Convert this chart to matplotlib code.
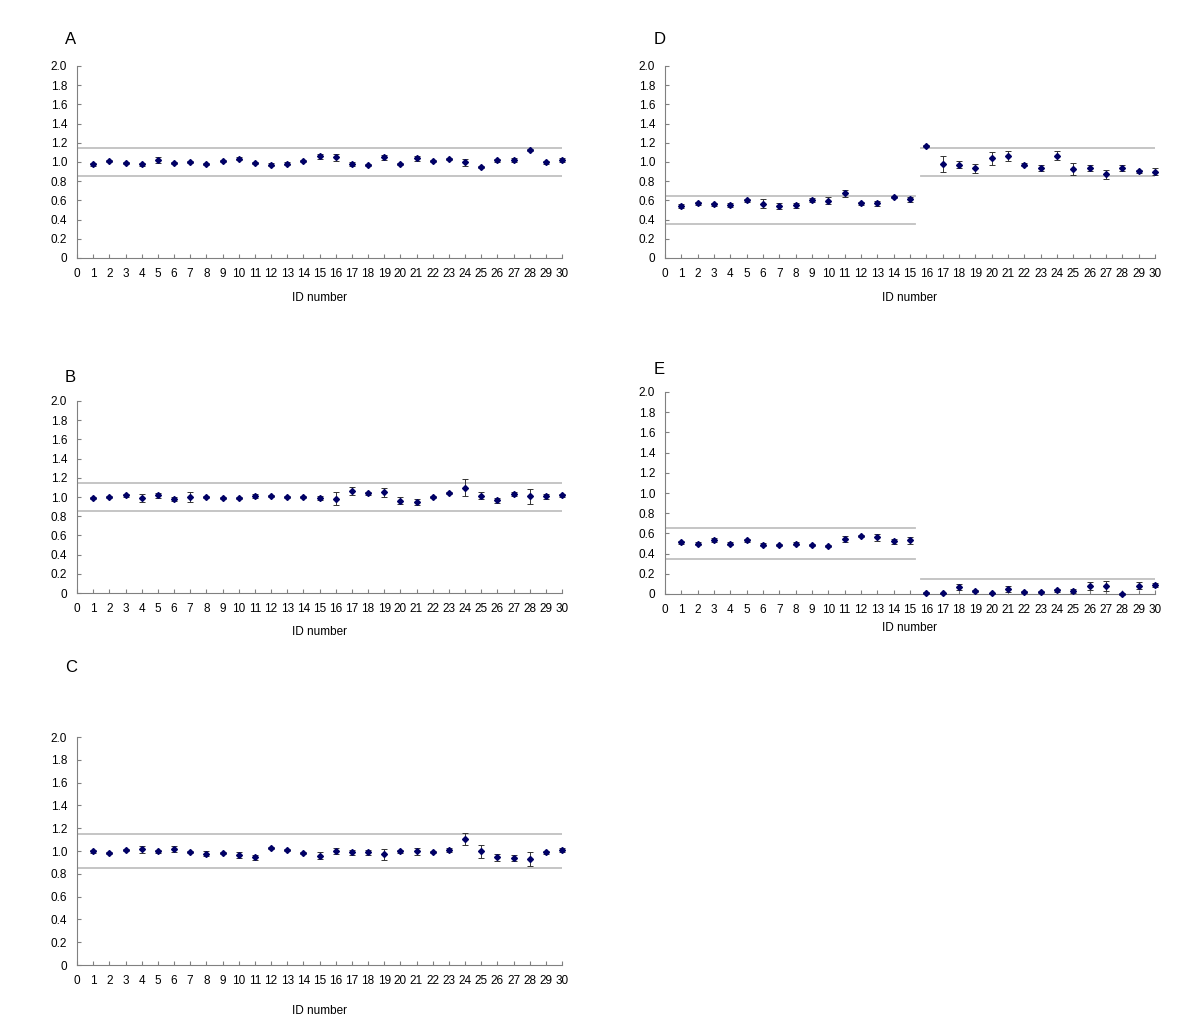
import matplotlib
matplotlib.use("Agg")
import matplotlib.pyplot as plt
import numpy as np

plt.rcParams['font.family'] = ['Liberation Sans', 'DejaVu Sans']

ids = np.arange(1, 31)

a_vals = [0.976, 1.01, 0.993, 0.976, 1.017, 0.993, 1.003, 0.976, 1.007, 1.035,
          0.993, 0.972, 0.983, 1.01, 1.06, 1.047, 0.98, 0.97, 1.05, 0.98,
          1.037, 1.01, 1.033, 0.998, 0.946, 1.016, 1.02, 1.123, 0.998, 1.02]
a_err = [0.014, 0.01, 0.01, 0.017, 0.03, 0.01, 0.01, 0.01, 0.01, 0.014,
         0.01, 0.014, 0.014, 0.01, 0.028, 0.04, 0.02, 0.014, 0.028, 0.014,
         0.024, 0.007, 0.01, 0.035, 0.01, 0.02, 0.02, 0.01, 0.014, 0.02]

b_vals = [0.99, 1.0, 1.017, 0.99, 1.017, 0.98, 0.997, 1.0, 0.99, 0.99,
          1.007, 1.01, 1.0, 1.0, 0.99, 0.983, 1.059, 1.038, 1.048, 0.962,
          0.948, 1.0, 1.038, 1.097, 1.014, 0.965, 1.03, 1.007, 1.007, 1.017]
b_err = [0.007, 0.01, 0.014, 0.04, 0.028, 0.017, 0.05, 0.01, 0.007, 0.014,
         0.02, 0.01, 0.007, 0.007, 0.02, 0.065, 0.04, 0.014, 0.048, 0.038,
         0.035, 0.01, 0.01, 0.09, 0.035, 0.028, 0.017, 0.08, 0.028, 0.017]

c_vals = [0.996, 0.98, 1.008, 1.016, 0.996, 1.016, 0.989, 0.977, 0.98, 0.967,
          0.943, 1.028, 1.008, 0.98, 0.96, 1.0, 0.987, 0.987, 0.97, 0.996,
          0.996, 0.989, 1.008, 1.106, 0.996, 0.945, 0.938, 0.93, 0.987, 1.008]
c_err = [0.01, 0.01, 0.01, 0.032, 0.015, 0.025, 0.01, 0.025, 0.01, 0.025,
         0.025, 0.01, 0.01, 0.01, 0.027, 0.03, 0.022, 0.02, 0.05, 0.017,
         0.03, 0.01, 0.015, 0.054, 0.054, 0.032, 0.027, 0.063, 0.012, 0.017]

d_vals = [0.541, 0.569, 0.559, 0.548, 0.60, 0.566, 0.541, 0.548, 0.607, 0.597,
          0.672, 0.569, 0.569, 0.631, 0.61, 1.166, 0.979, 0.972, 0.934, 1.038,
          1.062, 0.972, 0.938, 1.066, 0.931, 0.934, 0.872, 0.934, 0.903, 0.90]
d_err = [0.017, 0.014, 0.014, 0.02, 0.017, 0.048, 0.035, 0.024, 0.02, 0.035,
         0.038, 0.014, 0.024, 0.01, 0.024, 0.014, 0.08, 0.038, 0.045, 0.068,
         0.05, 0.014, 0.035, 0.045, 0.062, 0.03, 0.048, 0.03, 0.017, 0.038]

e_vals = [0.51, 0.50, 0.53, 0.50, 0.53, 0.49, 0.49, 0.50, 0.49, 0.48,
          0.54, 0.575, 0.56, 0.52, 0.53, 0.014, 0.007, 0.07, 0.03, 0.007,
          0.05, 0.02, 0.018, 0.035, 0.028, 0.08, 0.08, 0.0, 0.08, 0.085]
e_err = [0.01, 0.01, 0.02, 0.01, 0.015, 0.015, 0.01, 0.01, 0.01, 0.01,
         0.03, 0.01, 0.035, 0.02, 0.03, 0.01, 0.007, 0.03, 0.014, 0.007,
         0.03, 0.01, 0.01, 0.014, 0.017, 0.04, 0.05, 0.005, 0.035, 0.02]

# reference limits: (low, high, x from, x to)
band_normal = [(0.85, 1.15, 0, 30)]
band_d = [(0.35, 0.65, 0, 15.3), (0.85, 1.15, 15.7, 30)]
band_e = [(0.35, 0.65, 0, 15.3), (-0.15, 0.15, 15.7, 30)]

panels = [
    # letter, values, errors, bands, axes box (left, top, width, height) px,
    # letter position px, x label position px
    ("A", a_vals, a_err, band_normal, (77, 66, 485, 192), (65, 40), (320, 298)),
    ("B", b_vals, b_err, band_normal, (77, 401, 485, 192), (65, 377), (320, 632)),
    ("C", c_vals, c_err, band_normal, (77, 737, 485, 228), (65, 668), (320, 1011)),
    ("D", d_vals, d_err, band_d, (665, 66, 490, 192), (654, 40), (910, 298)),
    ("E", e_vals, e_err, band_e, (665, 392, 490, 202), (654, 370), (910, 628)),
]

W, H = 1200, 1034
fig = plt.figure(figsize=(W / 100, H / 100), dpi=100)

for letter, vals, errs, bands, (l, t, w, h), (lx, ly), (xx, xy) in panels:
    ax = fig.add_axes([l / W, 1 - (t + h) / H, w / W, h / H])
    for lo, hi, x0, x1 in bands:
        ax.plot([x0, x1], [lo, lo], color='#c0c0c0', lw=1.3, zorder=1)
        ax.plot([x0, x1], [hi, hi], color='#c0c0c0', lw=1.3, zorder=1)
    eb = ax.errorbar(ids, vals, yerr=errs, fmt='D', color='#000066', ms=3,
                     ecolor='#333333', elinewidth=0.7, capsize=2.5,
                     capthick=0.7, zorder=3)
    for art in eb.get_children():
        art.set_clip_on(False)
    ax.set_xlim(0, 30)
    ax.set_ylim(0, 2.0)
    ax.set_xticks(range(0, 31))
    ax.set_yticks(np.arange(0, 2.01, 0.2))
    ax.set_yticklabels(['0'] + [f"{v:.1f}" for v in np.arange(0.2, 2.01, 0.2)])
    for s in ['top', 'right']:
        ax.spines[s].set_visible(False)
    for s in ['left', 'bottom']:
        ax.spines[s].set_color('#808080')
        ax.spines[s].set_linewidth(0.8)
    ax.tick_params(direction='in', length=3, width=0.8, color='#808080',
                   labelsize=8.5, pad=7)
    fig.text(lx / W, 1 - ly / H, letter, fontsize=12, ha='left', va='center')
    fig.text(xx / W, 1 - xy / H, 'ID number', fontsize=8.5,
             ha='center', va='center')

fig.savefig('out.png', dpi=100)
